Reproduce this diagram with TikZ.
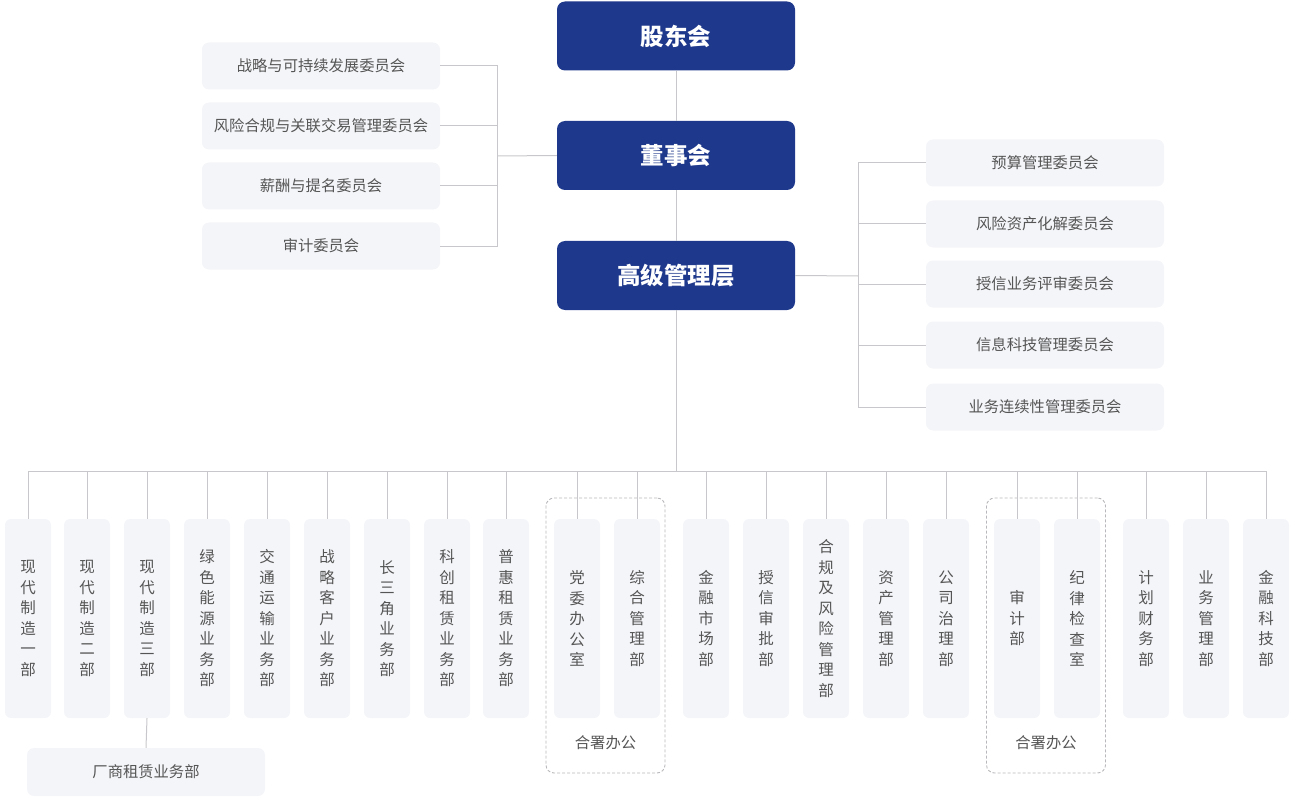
\documentclass[tikz,border=0pt]{standalone}
\usepackage{fontspec}
\setmainfont{Noto Sans CJK SC}
\definecolor{navy}{HTML}{1E388C}
\definecolor{boxgray}{HTML}{F4F5F9}
\definecolor{linegray}{HTML}{C8C8CC}
\definecolor{dashgray}{HTML}{B8B8BC}
\definecolor{txtgray}{HTML}{555555}
\begin{document}
\begin{tikzpicture}[x=1pt,y=-1pt,
  topbox/.style={minimum width=238pt,minimum height=69pt,rounded corners=8pt,fill=navy,text=white,inner sep=0pt,font=\fontsize{23.5}{27}\selectfont\bfseries},
  cbox/.style={minimum width=238pt,minimum height=47pt,rounded corners=7pt,fill=boxgray,text=txtgray,inner sep=0pt,font=\fontsize{15.3}{18}\selectfont},
  colbox/.style={minimum width=46pt,minimum height=199pt,rounded corners=6pt,fill=boxgray,text=txtgray,inner sep=0pt,align=center,font=\fontsize{15.5}{20.5}\selectfont},
  grp/.style={minimum width=119pt,minimum height=275pt,rounded corners=8pt,draw=dashgray,line width=0.9pt,dash pattern=on 3pt off 2pt,inner sep=0pt},
  grplabel/.style={text=txtgray,font=\fontsize{15.3}{18}\selectfont},
  conn/.style={draw=linegray,line width=1pt}]
\useasboundingbox (0,0) rectangle (1301,805);
% top
\node[topbox] (gd) at (676,36) {股东会};
\node[topbox] (ds) at (676,155.5) {董事会};
\node[topbox] (gj) at (676,275.5) {高级管理层};
% left committees
\node[cbox] (lc1) at (321,66) {战略与可持续发展委员会};
\node[cbox] (lc2) at (321,126) {风险合规与关联交易管理委员会};
\node[cbox] (lc3) at (321,186) {薪酬与提名委员会};
\node[cbox] (lc4) at (321,246) {审计委员会};
\coordinate (lj) at (497,156);
% right committees
\node[cbox] (rc1) at (1045,163) {预算管理委员会};
\node[cbox] (rc2) at (1045,224) {风险资产化解委员会};
\node[cbox] (rc3) at (1045,284) {授信业务评审委员会};
\node[cbox] (rc4) at (1045,345) {信息科技管理委员会};
\node[cbox] (rc5) at (1045,407) {业务连续性管理委员会};
\coordinate (rj) at (858,276);
\coordinate (bus) at (676,471);
% groups
\node[grp] (g1) at (605.5,635.5) {};
\node[grp] (g2) at (1046,635.5) {};
\node[grplabel] (g1l) at (605.5,743) {合署办公};
\node[grplabel] (g2l) at (1046,743) {合署办公};
% columns
\node[colbox] (c1) at (28,618.5) {现\\代\\制\\造\\一\\部};
\node[colbox] (c2) at (87,618.5) {现\\代\\制\\造\\二\\部};
\node[colbox] (c3) at (147,618.5) {现\\代\\制\\造\\三\\部};
\node[colbox] (c4) at (207,618.5) {绿\\色\\能\\源\\业\\务\\部};
\node[colbox] (c5) at (267,618.5) {交\\通\\运\\输\\业\\务\\部};
\node[colbox] (c6) at (327,618.5) {战\\略\\客\\户\\业\\务\\部};
\node[colbox] (c7) at (387,618.5) {长\\三\\角\\业\\务\\部};
\node[colbox] (c8) at (447,618.5) {科\\创\\租\\赁\\业\\务\\部};
\node[colbox] (c9) at (506,618.5) {普\\惠\\租\\赁\\业\\务\\部};
\node[colbox] (c10) at (577,618.5) {党\\委\\办\\公\\室};
\node[colbox] (c11) at (637,618.5) {综\\合\\管\\理\\部};
\node[colbox] (c12) at (706,618.5) {金\\融\\市\\场\\部};
\node[colbox] (c13) at (766,618.5) {授\\信\\审\\批\\部};
\node[colbox] (c14) at (826,618.5) {合\\规\\及\\风\\险\\管\\理\\部};
\node[colbox] (c15) at (886,618.5) {资\\产\\管\\理\\部};
\node[colbox] (c16) at (946,618.5) {公\\司\\治\\理\\部};
\node[colbox] (c17) at (1017,618.5) {审\\计\\部};
\node[colbox] (c18) at (1077,618.5) {纪\\律\\检\\查\\室};
\node[colbox] (c19) at (1146,618.5) {计\\划\\财\\务\\部};
\node[colbox] (c20) at (1206,618.5) {业\\务\\管\\理\\部};
\node[colbox] (c21) at (1266,618.5) {金\\融\\科\\技\\部};
\node[cbox,minimum height=48pt] (cs) at (146,772) {厂商租赁业务部};
% connectors
\draw[conn] (gd) -- (ds);
\draw[conn] (ds) -- (gj);
\draw[conn] (lc1.east) -- (lc1.east -| lj) -- (lc4.east -| lj) -- (lc4.east);
\draw[conn] (lc2.east) -- (lc2.east -| lj);
\draw[conn] (lc3.east) -- (lc3.east -| lj);
\draw[conn] (lj) -- (ds.west);
\draw[conn] (gj.east) -- (rj);
\draw[conn] (rc1.west) -- (rc1.west -| rj) -- (rc5.west -| rj) -- (rc5.west);
\draw[conn] (rc2.west) -- (rc2.west -| rj);
\draw[conn] (rc3.west) -- (rc3.west -| rj);
\draw[conn] (rc4.west) -- (rc4.west -| rj);
\draw[conn] (gj.south) -- (bus);
\draw[conn] (c1.north |- bus) -- (c21.north |- bus);
\foreach \i in {1,...,21} {\draw[conn] (c\i.north) -- (c\i.north |- bus);}
\draw[conn] (c3.south) -- (cs.north);
\end{tikzpicture}
\end{document}
